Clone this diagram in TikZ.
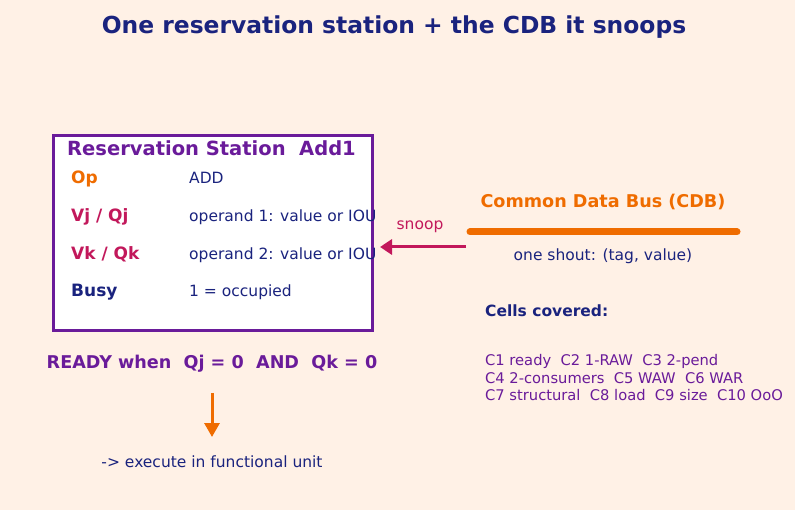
\documentclass[tikz,border=0pt]{standalone}
\usepackage{fontspec}
\setmainfont{DejaVu Sans}
\usetikzlibrary{arrows.meta,positioning}
\definecolor{bgcream}{HTML}{FFF1E6}
\definecolor{rspurple}{HTML}{6A1B9A}
\definecolor{cdborange}{HTML}{EF6C00}
\definecolor{snoopred}{HTML}{C2185B}
\definecolor{inknavy}{HTML}{1A237E}
\tikzstyle{fieldname}=[anchor=base west, inner sep=0pt, font=\bfseries\fontsize{17}{20}\selectfont]
\tikzstyle{fieldval}=[anchor=base west, inner sep=0pt, text=inknavy, font=\fontsize{15.5}{18}\selectfont]
\tikzstyle{plain}=[inner sep=0pt, font=\fontsize{15.5}{18}\selectfont]
\tikzstyle{heading}=[inner sep=0pt, font=\bfseries\fontsize{17.6}{20}\selectfont]
\newcommand{\field}{\node[fieldname]}
\newcommand{\fval}{\node[fieldval]}

\begin{document}
\begin{tikzpicture}[x=1pt, y=-1pt]
    \fill[bgcream] (0,0) rectangle (795,510);
    \useasboundingbox (0,0) rectangle (795,510);

    \node[inner sep=0pt, text=inknavy, font=\bfseries\fontsize{23.4}{26}\selectfont] (title) at (394,27)
        {One reservation station + the CDB it snoops};

    % the station
    \node[draw=rspurple, line width=3pt, fill=white, anchor=north west,
          minimum width=319pt, minimum height=195pt, inner sep=0pt] (rs) at (52,134) {};
    \node[heading, anchor=west, text=rspurple, font=\bfseries\fontsize{19.5}{22}\selectfont] (rstitle) at (67,148) {Reservation Station\ \ Add1};

    \field[text=cdborange] (op) at (71,184) {Op};
    \fval (opval) at (189,184) {ADD};
    \field[text=snoopred] (vj) at (71,222) {Vj / Qj};
    \fval (vjval) at (189,222) {operand 1: value or IOU};
    \field[text=snoopred] (vk) at (71,260) {Vk / Qk};
    \fval (vkval) at (189,260) {operand 2: value or IOU};
    \field[text=inknavy] (busy) at (71,297) {Busy};
    \fval (busyval) at (189,297) {1 = occupied};

    % the bus
    \coordinate (cdbL) at (470,232);
    \coordinate (cdbR) at (737,232);
    \draw[cdborange, line width=7pt, line cap=round] (cdbL) -- (cdbR);
    \node[heading, text=cdborange] (cdb) at (603,202) {Common Data Bus (CDB)};
    \node[plain, text=inknavy] (shout) at (603,256) {one shout: (tag, value)};

    \coordinate (snoopfrom) at (466,247);
    \coordinate (snoopto) at (380,247);
    \draw[snoopred, line width=3pt, -{Triangle[length=12pt, width=15pt]}] (snoopfrom) -- (snoopto);
    \node[plain, text=snoopred] (snoop) at (420,227) {snoop};

    \node[plain, anchor=west, text=inknavy, font=\bfseries\fontsize{15.5}{18}\selectfont] (cells) at (485,311) {Cells covered:};
    \node[plain, anchor=north west, align=left, text=rspurple, font=\fontsize{14.7}{17.7}\selectfont] (celllist) at (485,354)
        {C1 ready\ \ C2 1-RAW\ \ C3 2-pend\\C4 2-consumers\ \ C5 WAW\ \ C6 WAR\\C7 structural\ \ C8 load\ \ C9 size\ \ C10 OoO};

    % issue to execute
    \node[heading, text=rspurple] (ready) at (212,364) {READY when\ \ Qj = 0\ \ AND\ \ Qk = 0};
    \node[plain, text=inknavy] (exec) at (212,462) {-> execute in functional unit};
    \draw[cdborange, line width=3pt, -{Triangle[length=14pt, width=15pt]}]
        ([yshift=-29pt]ready.center) -- ([yshift=25pt]exec.center);
\end{tikzpicture}
\end{document}
